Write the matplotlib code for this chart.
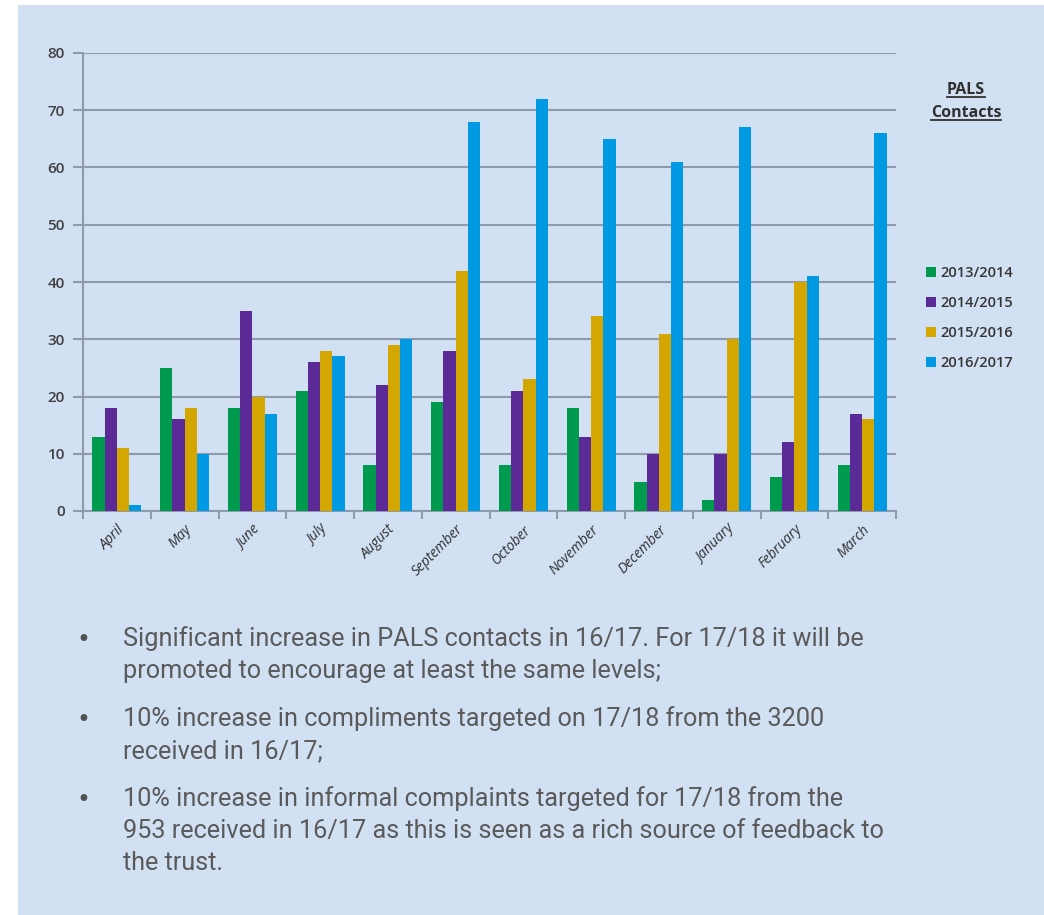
import matplotlib
matplotlib.use("Agg")
import matplotlib.pyplot as plt
import matplotlib.patches as mpatches
import numpy as np
from matplotlib import font_manager

months = ["April", "May", "June", "July", "August", "September", "October",
          "November", "December", "January", "February", "March"]
series_names = ["2013/2014", "2014/2015", "2015/2016", "2016/2017"]
s2013 = [13, 25, 18, 21, 8, 19, 8, 18, 5, 2, 6, 8]
s2014 = [18, 16, 35, 26, 22, 28, 21, 13, 10, 10, 12, 17]
s2015 = [11, 18, 20, 28, 29, 42, 23, 34, 31, 30, 40, 16]
s2016 = [1, 10, 17, 27, 30, 68, 72, 65, 61, 67, 41, 66]
colors = ["#009A4E", "#5B2A96", "#D4A600", "#0099E3"]
bullets = [
    "Significant increase in PALS contacts in 16/17. For 17/18 it will be\npromoted to encourage at least the same levels;",
    "10% increase in compliments targeted on 17/18 from the 3200\nreceived in 16/17;",
    "10% increase in informal complaints targeted for 17/18 from the\n953 received in 16/17 as this is seen as a rich source of feedback to\nthe trust.",
]

avail = {f.name for f in font_manager.fontManager.ttflist}
body_font = "Roboto"
tick_font = "Open Sans" if "Open Sans" in avail else "DejaVu Sans"

W, H = 1044, 915
fig = plt.figure(figsize=(W / 100, H / 100), dpi=100)
fig.patch.set_facecolor("white")
bg = "#D2E0F3"
fig.patches.append(mpatches.Rectangle((18 / W, 0), 1 - 18 / W, 1 - 5 / H,
                                      transform=fig.transFigure, facecolor=bg,
                                      edgecolor="none", zorder=-10))

ax = fig.add_axes([83 / W, 1 - 511 / H, (896 - 83) / W, (511 - 53) / H], zorder=2)
ax.set_facecolor("none")
x = np.arange(len(months))
bw = 0.18
allseries = [s2013, s2014, s2015, s2016]
for i, (vals, name, c) in enumerate(zip(allseries, series_names, colors)):
    ax.bar(x + (i - 1.5) * bw, vals, width=bw, color=c, label=name, zorder=3,
           linewidth=0)

ax.set_xlim(-0.5, len(months) - 0.5)
ax.set_ylim(0, 80)
ax.set_yticks(range(0, 81, 10))
ax.yaxis.grid(True, color="#8F9AAA", linewidth=1.5, zorder=1)
ax.set_axisbelow(True)
for s in ["top", "right"]:
    ax.spines[s].set_visible(False)
ax.spines["left"].set_color("#8F9AAA")
ax.spines["left"].set_linewidth(1.5)
ax.spines["bottom"].set_color("#8F9AAA")
ax.spines["bottom"].set_linewidth(1.5)
ax.tick_params(axis="y", length=7, width=1.5, color="#8F9AAA",
               labelsize=11, labelcolor="#404040", pad=6)
for lab in ax.get_yticklabels():
    lab.set_fontfamily(tick_font)
    lab.set_fontweight("semibold")

ax.set_xticks(x)
ax.set_xticklabels(months, rotation=45, ha="right", rotation_mode="anchor",
                   fontsize=10, color="#303030", fontfamily=tick_font,
                   style="italic")
ax.tick_params(axis="x", length=0, pad=8)
ax.set_xticks(np.arange(-0.5, len(months) + 0.5, 1), minor=True)
ax.tick_params(axis="x", which="minor", length=6, width=1.5, color="#8F9AAA")

leg = fig.legend(loc="upper left", bbox_to_anchor=(913 / W, 1 - 253 / H),
                 frameon=False, handlelength=0.65, handleheight=0.65,
                 handletextpad=0.3, labelspacing=1.1,
                 prop={"family": tick_font, "size": 10.5, "weight": "semibold"})
for t in leg.get_texts():
    t.set_color("#353535")

# Title with underline
t1 = fig.text(966 / W, 1 - 90 / H, "PALS", ha="center", va="center",
              fontsize=11.5, fontweight="bold", color="#303030", fontfamily=tick_font)
t2 = fig.text(966 / W, 1 - 113 / H, "Contacts", ha="center", va="center",
              fontsize=11.5, fontweight="bold", color="#303030", fontfamily=tick_font)
fig.canvas.draw()
r = fig.canvas.get_renderer()
for t in (t1, t2):
    bb = t.get_window_extent(r).transformed(fig.transFigure.inverted())
    fig.add_artist(plt.Line2D([bb.x0, bb.x1], [bb.y0 + 0.001, bb.y0 + 0.001],
                              transform=fig.transFigure, color="#303030",
                              linewidth=1.3))

# Bullet text
ytops = [626, 706, 786]
for yt, txt in zip(ytops, bullets):
    fig.text(77 / W, 1 - (yt + 14) / H, "\u2022", ha="left", va="center",
             fontsize=17, color="#505050", fontfamily="DejaVu Sans")
    fig.text(123 / W, 1 - yt / H, txt, ha="left", va="top", fontsize=18.2,
             color="#5A5A5A", fontfamily=body_font, fontweight="normal",
             linespacing=1.43)

fig.savefig("out.png", dpi=100)
